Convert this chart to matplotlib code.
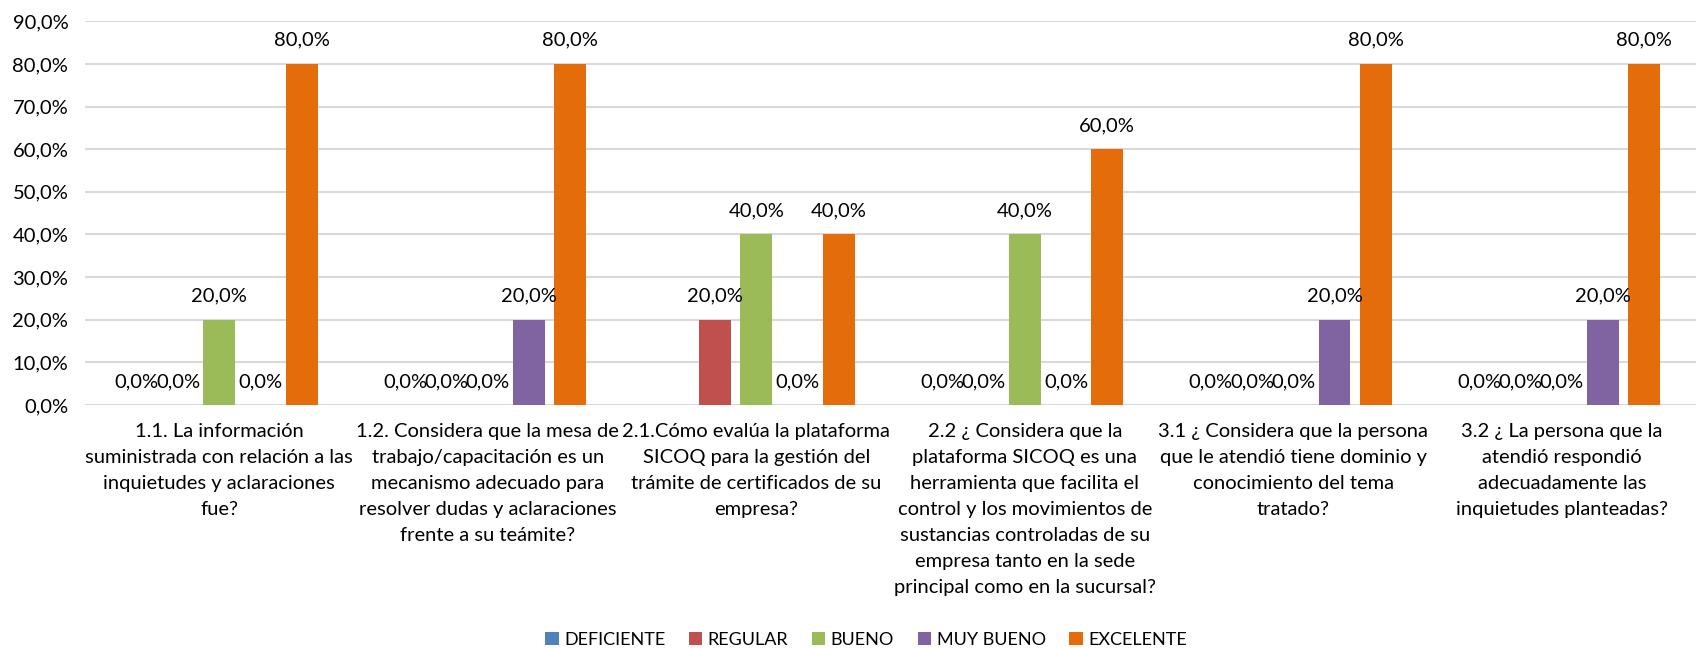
import numpy as np
import matplotlib.pyplot as plt

plt.rcParams['font.family'] = ['Lato', 'DejaVu Sans']

questions = [
    "1.1. La información\nsuministrada con relación a las\ninquietudes y aclaraciones\nfue?",
    "1.2. Considera que la mesa de\ntrabajo/capacitación es un\nmecanismo adecuado para\nresolver dudas y aclaraciones\nfrente a su teámite?",
    "2.1.Cómo evalúa la plataforma\nSICOQ para la gestión del\ntrámite de certificados de su\nempresa?",
    "2.2 ¿ Considera que la\nplataforma SICOQ es una\nherramienta que facilita el\ncontrol y los movimientos de\nsustancias controladas de su\nempresa tanto en la sede\nprincipal como en la sucursal?",
    "3.1 ¿ Considera que la persona\nque le atendió tiene dominio y\nconocimiento del tema\ntratado?",
    "3.2 ¿ La persona que la\natendió respondió\nadecuadamente las\ninquietudes planteadas?",
]
series_names = ["DEFICIENTE", "REGULAR", "BUENO", "MUY BUENO", "EXCELENTE"]
deficiente = [0.0, 0.0, None, 0.0, 0.0, 0.0]
regular = [0.0, 0.0, 0.2, 0.0, 0.0, 0.0]
bueno = [0.2, 0.0, 0.4, 0.4, 0.0, 0.0]
muy_bueno = [0.0, 0.2, 0.0, 0.0, 0.2, 0.2]
excelente = [0.8, 0.8, 0.4, 0.6, 0.8, 0.8]
colors = ["#4f81bd", "#c0504d", "#9bbb59", "#8064a2", "#e46c0a"]

series = [deficiente, regular, bueno, muy_bueno, excelente]
fs = 14.5

fig = plt.figure(figsize=(16.96, 6.48), dpi=100)
ax = fig.add_axes([85 / 1696, 1 - 405 / 648, 1 - 85 / 1696, (405 - 21.3) / 648])

x = np.arange(len(questions))
slot = 0.1536
width = 0.119
for i, (name, vals, c) in enumerate(zip(series_names, series, colors)):
    offs = (i - 2) * slot
    for j, v in enumerate(vals):
        if v is None:
            continue
        ax.bar(x[j] + offs, v, width, color=c, zorder=2,
               label=name if j == 0 else None)
        ax.annotate(f"{v * 100:.1f}%".replace('.', ','), (x[j] + offs, v),
                    xytext=(0, 17), textcoords='offset points',
                    ha='center', va='center', fontsize=fs, color='#000000')

ax.set_xlim(-0.5, len(questions) - 0.5)
ax.set_ylim(0, 0.9)
ax.set_yticks(np.arange(0, 0.91, 0.1))
ax.set_yticklabels([f"{t * 100:.1f}%".replace('.', ',') for t in np.arange(0, 0.91, 0.1)])
ax.set_xticks(x)
ax.set_xticklabels(questions, fontsize=fs)
ax.tick_params(axis='both', length=0, colors='#000000')
ax.tick_params(axis='y', labelsize=fs, pad=12)
ax.tick_params(axis='x', pad=13)
for lbl in ax.get_xticklabels():
    lbl.set_linespacing(1.64)
ax.grid(axis='y', color='#d9d9d9', linewidth=1.5, zorder=0)
ax.set_axisbelow(True)
for s in ax.spines.values():
    s.set_visible(False)

fig.legend(loc='center', bbox_to_anchor=(866 / 1696, 1 - 640 / 648), ncol=5,
           frameon=False, fontsize=13, handlelength=0.75, handleheight=0.75,
           handletextpad=0.3, columnspacing=1.3, borderaxespad=0)

fig.savefig('out.png', dpi=100)
